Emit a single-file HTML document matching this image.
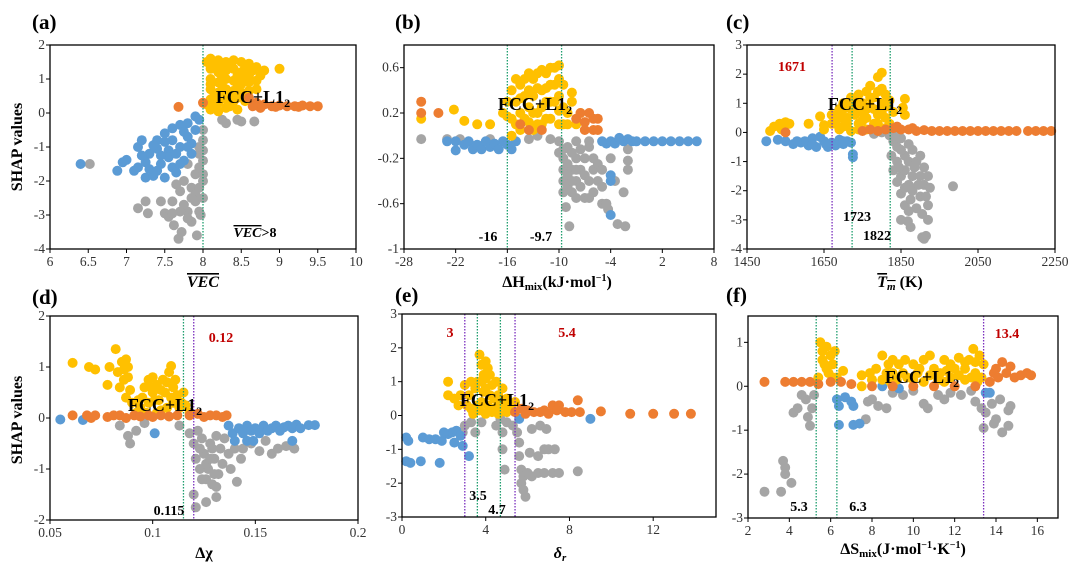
<!DOCTYPE html>
<html><head><meta charset="utf-8"><style>
html,body{margin:0;padding:0;background:#fff;}
svg{display:block;font-family:"Liberation Serif",serif;}
.tk{font-size:13.5px;fill:#333;}
</style></head><body>
<svg id="fig" width="1080" height="566" viewBox="0 0 1080 566"></svg>
<script>
// ---- data (x, y) per panel and class ----
const aYellow=[[8.1,1.6],[8.2,1.55],[8.3,1.5],[8.4,1.55],[8.5,1.5],[8.6,1.45],[8.7,1.35],[8.8,1.25],[9.0,1.3],[8.1,1.3],[8.2,1.2],[8.3,1.25],[8.4,1.3],[8.5,1.2],[8.6,1.1],[8.1,1.0],[8.2,0.9],[8.3,1.0],[8.4,0.95],[8.5,0.85],[8.6,0.9],[8.7,0.95],[8.1,0.7],[8.2,0.6],[8.3,0.7],[8.4,0.65],[8.5,0.6],[8.1,0.4],[8.2,0.3],[8.3,0.4],[8.4,0.35],[8.1,0.1],[8.2,0.05],[8.3,0.15],[8.45,0.1],[8.15,1.45],[8.35,1.4],[8.25,0.8],[8.15,0.55],[8.35,0.2],[8.05,0.25],[8.55,0.35],[8.6,0.65],[8.1,0.85],[8.15,0.2],[8.25,0.45],[8.25,1.05],[8.35,0.55],[8.45,0.75],[8.45,1.1],[8.55,1.0],[8.65,1.25],[8.7,0.7],[8.75,1.1],[8.25,1.35],[8.45,0.45],[8.05,1.5],[8.55,1.35]];
const aOrange=[[7.68,0.18],[8.0,0.3],[8.6,0.45],[8.7,0.3],[8.8,0.25],[8.9,0.2],[9.0,0.22],[9.1,0.2],[9.2,0.2],[9.3,0.22],[9.4,0.2],[9.5,0.2],[8.75,0.15],[8.95,0.18],[9.25,0.18],[8.65,0.2]];
const aBlue=[[6.4,-1.5],[6.88,-1.7],[6.95,-1.45],[7.0,-1.38],[7.15,-1.0],[7.15,-1.6],[7.2,-0.8],[7.25,-1.9],[7.3,-1.2],[7.35,-1.85],[7.4,-0.8],[7.45,-1.5],[7.5,-0.6],[7.5,-1.9],[7.55,-1.1],[7.6,-0.45],[7.6,-1.6],[7.65,-1.75],[7.7,-0.35],[7.7,-1.0],[7.75,-1.4],[7.8,-0.3],[7.8,-0.7],[7.85,-1.2],[7.9,-0.1],[7.9,-0.5],[7.95,-0.2],[7.25,-1.45],[7.4,-1.05],[7.6,-0.8],[7.1,-1.7],[7.35,-0.95],[7.55,-1.3],[7.7,-1.5],[7.85,-0.9],[7.2,-1.25],[7.3,-1.65],[7.45,-1.25],[7.65,-1.2],[7.75,-0.55],[7.5,-0.85],[7.4,-1.7],[7.8,-1.0]];
const aGray=[[6.52,-1.5],[7.15,-2.8],[7.25,-2.6],[7.28,-2.95],[7.45,-2.6],[7.5,-2.95],[7.55,-3.05],[7.6,-2.6],[7.62,-3.3],[7.68,-3.7],[7.72,-3.5],[7.7,-2.3],[7.75,-2.0],[7.8,-1.5],[7.8,-2.9],[7.85,-2.2],[7.85,-3.2],[7.9,-1.8],[7.9,-2.6],[7.92,-3.6],[7.95,-1.0],[7.95,-2.9],[8.0,-0.8],[8.0,-1.4],[8.0,-2.0],[8.0,-2.5],[7.97,-3.0],[8.0,-0.5],[8.25,-0.2],[8.3,-0.3],[8.45,-0.2],[8.5,-0.25],[8.67,-0.25],[7.65,-2.1],[7.75,-2.7],[7.95,-1.2],[7.95,-1.6],[7.95,-2.2],[7.9,-2.4],[7.85,-2.5],[8.0,-1.1],[8.0,-1.8],[7.8,-3.1],[7.7,-2.9],[7.6,-2.95]];

const bYellow=[[-16.5,0.2],[-16,0.3],[-15.5,0.4],[-15,0.5],[-14.5,0.45],[-14,0.5],[-13.5,0.55],[-13,0.5],[-12.5,0.55],[-12,0.58],[-11.5,0.55],[-11,0.6],[-10.5,0.6],[-10,0.62],[-10,0.5],[-15.5,0.15],[-15,0.3],[-14.5,0.2],[-14,0.35],[-13.5,0.25],[-13,0.35],[-12.5,0.2],[-12,0.4],[-11.5,0.3],[-11,0.45],[-10.5,0.3],[-10,0.35],[-9.5,0.25],[-9.5,0.45],[-9,0.2],[-9,0.1],[-8.5,0.38],[-8.5,0.3],[-8,0.1],[-7.5,0.2],[-12,0.1],[-11,0.15],[-10,0.1],[-13,0.05],[-14.5,0.05],[-15.5,0.0],[-26,0.15],[-22.2,0.23],[-21,0.13],[-19.5,0.1],[-18,0.1],[-16,0.17],[-14.5,0.33],[-13.5,0.4],[-12.5,0.42],[-11.5,0.42],[-10.5,0.45],[-13,0.2],[-12,0.25],[-11,0.3],[-10,0.22],[-9.5,0.1],[-14,0.15],[-15,0.1],[-12.5,0.1],[-11.5,0.15],[-13.5,0.12]];
const bOrange=[[-26,0.3],[-26,0.2],[-24,0.2],[-14.5,0.1],[-13.5,0.05],[-12,0.05],[-8,0.15],[-7.5,0.2],[-7,0.12],[-6.5,0.2],[-6,0.15],[-5.5,0.15],[-6,0.05],[-5.5,0.05],[-7,0.05]];
const bBlue=[[-23,-0.05],[-22,-0.05],[-22,-0.13],[-21,-0.08],[-20.5,-0.05],[-20,-0.12],[-19.5,-0.08],[-19,-0.12],[-18.5,-0.05],[-18,-0.1],[-17.5,-0.07],[-17,-0.12],[-16.5,-0.05],[-16,-0.08],[-15.5,-0.12],[-15,-0.05],[-4.5,-0.07],[-4,-0.05],[-3.5,-0.07],[-3,-0.02],[-2.5,-0.05],[-2,-0.03],[-1.5,-0.05],[-1,-0.05],[0,-0.05],[1,-0.05],[2,-0.05],[3,-0.05],[4,-0.05],[5,-0.05],[6,-0.05],[-4,-0.35],[-4,-0.4],[-4,-0.7],[-5,-0.05]];
const bGray=[[-26,-0.03],[-23,-0.03],[-21.5,-0.03],[-18,-0.03],[-13.5,-0.03],[-12.5,0.0],[-11,-0.03],[-10,-0.05],[-10,-0.15],[-9.5,-0.2],[-9.5,-0.3],[-9.5,-0.4],[-9.5,-0.5],[-9,-0.1],[-9,-0.25],[-9,-0.35],[-9,-0.45],[-8.5,-0.3],[-8.5,-0.5],[-8,-0.2],[-8,-0.4],[-8,-0.55],[-7.5,-0.3],[-7.5,-0.45],[-7,-0.2],[-7,-0.35],[-7,-0.55],[-6.5,-0.1],[-6.5,-0.4],[-6,-0.3],[-6,-0.5],[-5.5,-0.4],[-5,-0.45],[-5,-0.6],[-4.5,-0.6],[-4,-0.2],[-3.5,-0.4],[-2.5,-0.5],[-2,-0.3],[-2,-0.22],[-2,-0.12],[-3.2,-0.78],[-2.3,-0.8],[-8.8,-0.8],[-9.2,-0.63],[-4.3,-0.65],[-8,-0.05],[-6.5,-0.05],[-9.5,-0.12],[-8.5,-0.15],[-8.5,-0.4],[-7.5,-0.12],[-6,-0.2],[-5.5,-0.25],[-5,-0.3],[-6.5,-0.55],[-8,-0.3]];

const cYellow=[[1510,0.05],[1520,0.2],[1535,0.3],[1550,0.35],[1560,0.3],[1610,0.3],[1640,0.55],[1650,0.25],[1670,0.6],[1680,0.3],[1690,0.5],[1700,0.8],[1700,0.2],[1710,1.0],[1720,1.2],[1730,0.6],[1740,1.3],[1740,0.3],[1750,1.0],[1760,1.4],[1760,0.5],[1770,1.6],[1780,1.2],[1780,0.3],[1790,1.9],[1800,2.05],[1800,1.5],[1800,0.7],[1810,1.3],[1815,0.9],[1820,0.3],[1830,0.7],[1860,1.15],[1860,0.6],[1855,0.85],[1690,0.1],[1720,0.05],[1760,0.1],[1700,1.0],[1730,0.9],[1750,0.7],[1650,0.1],[1540,0.1],[1670,0.3],[1770,0.9],[1790,0.6],[1680,0.6],[1690,0.8],[1710,0.5],[1720,0.8],[1730,1.1],[1740,0.7],[1750,0.4],[1760,0.8],[1770,1.2],[1780,0.8],[1790,1.4],[1790,0.3],[1800,1.0],[1810,0.5],[1820,1.1],[1710,0.3],[1740,0.1],[1810,0.15],[1700,0.5]];
const cOrange=[[1750,0.05],[1770,0.1],[1790,0.05],[1810,0.1],[1830,0.15],[1850,0.1],[1870,0.1],[1890,0.05],[1910,0.08],[1930,0.05],[1950,0.05],[1970,0.05],[1990,0.05],[2010,0.05],[2030,0.05],[2050,0.05],[2070,0.05],[2090,0.05],[2110,0.05],[2130,0.05],[2150,0.05],[2180,0.05],[2200,0.05],[2220,0.05],[2240,0.05],[1840,0.2],[1880,0.15],[1550,0.0]];
const cBlue=[[1500,-0.3],[1530,-0.25],[1550,-0.3],[1570,-0.4],[1590,-0.35],[1610,-0.45],[1620,-0.2],[1630,-0.5],[1650,-0.3],[1660,-0.5],[1670,-0.35],[1680,-0.45],[1700,-0.4],[1710,-0.3],[1720,-0.35],[1725,-0.75],[1725,-0.85],[1640,-0.15],[1600,-0.3],[1690,-0.25],[1580,-0.3],[1620,-0.4],[1655,-0.4],[1700,-0.3]];
const cGray=[[1820,-0.1],[1830,-0.3],[1825,-0.8],[1830,-1.3],[1840,-0.5],[1840,-1.0],[1850,-0.2],[1850,-1.5],[1850,-2.1],[1860,-0.8],[1860,-1.3],[1860,-2.5],[1870,-1.0],[1870,-1.8],[1875,-2.3],[1880,-0.6],[1880,-1.5],[1880,-2.0],[1890,-1.0],[1890,-2.6],[1900,-0.8],[1900,-1.5],[1900,-2.2],[1905,-2.8],[1910,-1.2],[1910,-1.8],[1920,-1.5],[1920,-2.5],[1920,-3.0],[1850,-3.0],[1875,-3.25],[1868,-3.05],[1905,-3.6],[1915,-3.55],[1985,-1.85],[1835,-0.05],[1800,0.0],[1780,-0.05],[1910,-3.65],[1840,-1.7],[1850,-0.6],[1860,-1.9],[1870,-0.4],[1870,-2.7],[1885,-1.2],[1895,-1.8],[1915,-2.2],[1925,-1.9],[1845,-1.2]];

const dYellow=[[0.061,1.08],[0.069,1.0],[0.072,0.95],[0.078,0.65],[0.079,1.0],[0.082,1.35],[0.083,0.9],[0.085,1.1],[0.086,0.75],[0.087,1.15],[0.088,1.0],[0.089,0.55],[0.090,0.3],[0.092,0.1],[0.095,0.4],[0.096,0.6],[0.098,0.75],[0.098,0.3],[0.100,0.8],[0.100,0.5],[0.102,0.65],[0.103,0.35],[0.104,0.15],[0.105,0.75],[0.106,0.5],[0.108,0.9],[0.109,1.02],[0.110,0.6],[0.110,0.3],[0.112,0.45],[0.113,0.2],[0.115,0.5],[0.116,0.25],[0.118,0.1],[0.094,0.2],[0.084,0.6],[0.107,0.2],[0.097,0.1],[0.086,0.95],[0.088,0.8],[0.099,0.6],[0.101,0.35],[0.104,0.55],[0.107,0.7],[0.109,0.4],[0.111,0.75],[0.114,0.3],[0.102,0.1],[0.093,0.35],[0.087,0.4]];
const dOrange=[[0.061,0.05],[0.068,0.05],[0.070,0.0],[0.072,0.05],[0.078,0.02],[0.081,0.05],[0.084,0.05],[0.087,0.0],[0.091,0.05],[0.094,0.03],[0.098,0.05],[0.100,0.02],[0.104,0.05],[0.108,0.03],[0.112,0.05],[0.118,0.05],[0.122,0.08],[0.125,0.02],[0.128,0.05],[0.131,0.05],[0.134,0.02],[0.136,0.05]];
const dBlue=[[0.055,-0.03],[0.066,-0.04],[0.101,-0.3],[0.137,-0.15],[0.139,-0.3],[0.140,-0.45],[0.142,-0.2],[0.144,-0.3],[0.146,-0.15],[0.148,-0.25],[0.150,-0.2],[0.152,-0.3],[0.154,-0.15],[0.156,-0.25],[0.158,-0.2],[0.160,-0.15],[0.162,-0.25],[0.164,-0.18],[0.166,-0.15],[0.168,-0.2],[0.170,-0.13],[0.176,-0.14],[0.179,-0.14],[0.172,-0.2],[0.146,-0.45],[0.149,-0.45],[0.168,-0.45]];
const dGray=[[0.084,-0.15],[0.088,-0.35],[0.089,-0.5],[0.092,-0.25],[0.096,-0.1],[0.113,-0.15],[0.118,-0.3],[0.120,-0.5],[0.121,-0.8],[0.123,-1.0],[0.124,-0.4],[0.125,-0.7],[0.126,-1.2],[0.127,-1.0],[0.128,-0.5],[0.129,-1.3],[0.130,-0.8],[0.131,-0.35],[0.132,-1.1],[0.133,-0.6],[0.134,-0.9],[0.135,-0.4],[0.137,-0.7],[0.138,-1.0],[0.120,-1.5],[0.121,-1.75],[0.126,-1.65],[0.131,-1.35],[0.131,-1.55],[0.141,-1.25],[0.140,-0.6],[0.143,-0.8],[0.144,-0.6],[0.148,-0.5],[0.155,-0.45],[0.158,-0.7],[0.161,-0.6],[0.165,-0.55],[0.169,-0.6],[0.152,-0.65],[0.122,-0.25],[0.124,-1.2],[0.126,-0.9],[0.128,-0.8],[0.129,-0.6],[0.123,-0.6],[0.130,-1.1]];

const eYellow=[[2.2,1.0],[2.2,0.6],[2.5,0.5],[2.8,0.6],[3.0,0.9],[3.2,0.6],[3.3,0.2],[3.5,0.8],[3.6,1.0],[3.6,0.3],[3.7,1.8],[3.8,1.5],[3.9,1.2],[4.0,1.6],[4.0,0.8],[4.1,0.3],[4.2,1.2],[4.3,0.9],[4.4,0.5],[4.5,1.0],[4.6,0.6],[4.7,0.3],[4.8,0.8],[5.0,0.5],[5.2,0.3],[5.4,0.4],[3.4,0.05],[4.0,0.05],[4.6,0.05],[5.0,0.1],[3.3,1.0],[4.3,0.1],[3.8,0.4],[3.9,0.7],[4.0,1.1],[4.2,0.6],[4.4,0.2],[3.7,0.15],[3.8,1.0],[4.1,1.4],[4.6,0.3],[4.9,0.3],[3.1,0.3],[2.7,0.3]];
const eOrange=[[5.4,0.1],[5.7,0.2],[6.0,0.15],[6.3,0.1],[6.6,0.1],[7.0,0.05],[7.2,0.3],[7.5,0.3],[7.4,0.15],[7.8,0.1],[8.1,0.1],[8.4,0.45],[8.5,0.1],[9.5,0.12],[10.9,0.05],[12.0,0.05],[13.0,0.05],[13.8,0.05],[6.8,0.15],[5.9,0.05]];
const eBlue=[[0.2,-0.65],[0.3,-0.75],[1.0,-0.65],[1.3,-0.7],[1.6,-0.7],[1.9,-0.75],[2.2,-0.55],[2.4,-0.5],[2.6,-0.45],[2.8,-0.6],[2.9,-0.9],[2.5,-0.8],[0.2,-1.35],[0.4,-1.4],[0.9,-1.35],[1.8,-1.4],[3.2,-1.2],[5.6,-0.1],[9.0,-0.1],[2.0,-0.5]];
const eGray=[[2.9,-0.5],[3.0,-0.3],[3.3,-0.2],[3.5,-0.5],[3.8,-0.2],[4.5,-0.3],[4.7,-0.1],[4.8,-0.5],[4.8,-1.0],[4.9,-1.6],[5.0,-0.2],[5.5,-0.5],[5.6,-0.8],[5.6,-1.2],[5.7,-1.6],[5.7,-2.0],[5.8,-2.2],[5.9,-2.4],[5.8,-1.8],[6.0,-1.7],[6.2,-1.8],[6.5,-1.7],[6.8,-1.7],[7.2,-1.7],[7.5,-1.7],[6.2,-0.4],[6.5,-1.2],[6.8,-1.0],[7.0,-1.0],[7.3,-1.0],[8.4,-1.65],[6.6,-0.3],[6.9,-0.4],[5.3,-0.3],[6.1,-1.1]];

const fYellow=[[5.5,1.0],[5.6,0.8],[5.7,0.5],[5.8,0.9],[5.9,0.3],[6.0,0.7],[6.1,0.5],[6.2,0.8],[6.3,0.2],[5.4,0.2],[6.6,0.35],[7.5,0.25],[7.9,0.3],[8.2,0.4],[8.5,0.7],[8.7,0.3],[8.8,0.5],[9.0,0.6],[9.3,0.5],[9.5,0.3],[9.6,0.6],[10.0,0.5],[10.2,0.3],[10.5,0.6],[10.8,0.7],[11.0,0.4],[11.3,0.3],[11.5,0.6],[11.8,0.5],[12.0,0.4],[12.2,0.65],[12.5,0.4],[12.7,0.6],[12.9,0.85],[13.0,0.3],[13.2,0.7],[13.4,0.5],[13.3,0.2],[9.2,0.15],[10.5,0.1],[11.5,0.1],[12.5,0.15],[8.9,0.1],[7.5,0.0],[8.0,0.15],[8.5,0.15],[9.7,0.2],[10.0,0.15],[10.8,0.25],[11.2,0.15],[11.8,0.2],[12.2,0.25],[12.8,0.2],[13.1,0.1],[9.0,0.3],[10.3,0.4],[11.6,0.35],[12.5,0.55],[13.0,0.55],[5.8,0.4],[6.1,0.2],[5.6,0.6]];
const fOrange=[[2.8,0.1],[3.8,0.1],[4.2,0.1],[4.6,0.1],[5.0,0.1],[5.4,0.05],[6.0,0.1],[6.5,0.1],[7.0,0.05],[8.0,0.0],[9.0,0.0],[10,0.0],[11,0.0],[12,0.0],[13,0.0],[13.7,0.1],[13.9,0.3],[14.1,0.2],[14.3,0.55],[14.5,0.3],[14.7,0.45],[14.9,0.2],[15.2,0.25],[15.5,0.3],[15.7,0.25],[14.0,0.4]];
const fBlue=[[6.3,-0.3],[6.4,-0.45],[6.4,-0.88],[6.7,-0.25],[7.0,-0.35],[7.1,-0.45],[7.1,-0.88],[7.4,-0.85],[8.5,0.0],[9.3,-0.05],[13.5,-0.15],[13.7,-0.15]];
const fGray=[[2.8,-2.4],[3.6,-2.4],[3.7,-1.7],[3.8,-1.85],[3.8,-2.0],[4.1,-2.2],[4.2,-0.6],[4.4,-0.5],[4.6,-0.2],[4.8,-0.3],[4.9,-0.7],[5.0,-0.9],[5.1,-0.5],[5.2,-0.2],[7.7,-0.75],[7.8,-0.35],[8.0,-0.3],[8.3,-0.45],[8.7,-0.5],[9.0,-0.15],[9.5,-0.2],[10.0,-0.1],[10.5,-0.4],[10.7,-0.5],[11.2,-0.2],[11.5,-0.3],[11.8,-0.15],[12.3,-0.2],[12.8,-0.1],[13.0,-0.35],[13.3,-0.5],[13.5,-0.6],[13.4,-0.95],[13.8,-0.4],[14.0,-0.75],[14.2,-0.3],[14.3,-1.05],[14.6,-0.55],[14.6,-0.9],[14.7,-0.45],[13.9,-0.85]];

// tick labels
const aXTicks=[6,6.5,7,7.5,8,8.5,9,9.5,10], aYTicks=[2,1,0,-1,-2,-3,-4];
const bXTicks=[-28,-22,-16,-10,-4,2,8], bYTicks=[0.6,0.2,-0.2,-0.6,-1];
const cXTicks=[1450,1650,1850,2050,2250], cYTicks=[3,2,1,0,-1,-2,-3,-4];
const dXTicks=[0.05,0.1,0.15,0.2], dYTicks=[2,1,0,-1,-2];
const eXTicks=[0,4,8,12], eYTicks=[3,2,1,0,-1,-2,-3];
const fXTicks=[2,4,6,8,10,12,14,16], fYTicks=[1,0,-1,-2,-3];
// threshold lines
const aLines=[[8,'g']], bLines=[[-16,'g'],[-9.7,'g']], cLines=[[1671,'p'],[1723,'g'],[1822,'g']];
const dLines=[[0.115,'g'],[0.12,'p']], eLines=[[3,'p'],[3.6,'g'],[4.7,'g'],[5.4,'p']], fLines=[[5.3,'g'],[6.3,'g'],[13.4,'p']];

const NS='http://www.w3.org/2000/svg';
const svg=document.getElementById('fig');
function mk(tag,attrs,parent,text){const e=document.createElementNS(NS,tag);for(const k in attrs)e.setAttribute(k,attrs[k]);if(text!==undefined)e.textContent=text;(parent||svg).appendChild(e);return e;}
const COL={y:'#FFC000',o:'#ED7D31',b:'#5B9BD5',g:'#A5A5A5'};

function panel(id,box,xr,yr,xt,yt,series,lines){
  const [L,T,R,B]=box;
  const sx=v=>L+(v-xr[0])/(xr[1]-xr[0])*(R-L);
  const sy=v=>B-(v-yr[0])/(yr[1]-yr[0])*(B-T);
  const g=mk('g',{});
  
  
  const order=[['g',series.g,'gray'],['b',series.b,'blue'],['y',series.y,'yellow'],['o',series.o,'orange']];
  order.forEach(([k,arr,nm])=>{
    arr.forEach(p=>{
      const c=mk('circle',{cx:sx(p[0]).toFixed(1),cy:sy(p[1]).toFixed(1),r:5,fill:COL[k]},g);
      
      
    });
  });
  lines.forEach(([v,c])=>{
    const l=mk('line',{x1:sx(v),x2:sx(v),y1:T,y2:B,stroke:c==='g'?'#1E9E6E':'#7B2FBE','stroke-width':1.3,'stroke-dasharray':'1.5,1.5'},g);
    
    
  });
  const fr=mk('rect',{x:L,y:T,width:R-L,height:B-T,fill:'none',stroke:'#000','stroke-width':1.3},g);
  
  
  xt.forEach(v=>{
    mk('line',{x1:sx(v),x2:sx(v),y1:B,y2:B+4,stroke:'#000'},g);
    const t=mk('text',{x:sx(v),y:B+17,'text-anchor':'middle',class:'tk'},g,String(v));
    
    
  });
  yt.forEach(v=>{
    mk('line',{x1:L-4,x2:L,y1:sy(v),y2:sy(v),stroke:'#000'},g);
    const t=mk('text',{x:L-5,y:sy(v)+4,'text-anchor':'end',class:'tk'},g,String(v));
    
    
  });
}
panel('a',[50,45,356,249],[6,10],[-4,2],aXTicks,aYTicks,{y:aYellow,o:aOrange,b:aBlue,g:aGray},aLines);
panel('b',[404,45,714,249],[-28,8],[-1,0.8],bXTicks,bYTicks,{y:bYellow,o:bOrange,b:bBlue,g:bGray},bLines);
panel('c',[747,45,1055,249],[1450,2250],[-4,3],cXTicks,cYTicks,{y:cYellow,o:cOrange,b:cBlue,g:cGray},cLines);
panel('d',[50,316,358,520],[0.05,0.2],[-2,2],dXTicks,dYTicks,{y:dYellow,o:dOrange,b:dBlue,g:dGray},dLines);
panel('e',[402,314,716,517],[0,15],[-3,3],eXTicks,eYTicks,{y:eYellow,o:eOrange,b:eBlue,g:eGray},eLines);
panel('f',[748,316,1058,518],[2,17],[-3,1.6],fXTicks,fYTicks,{y:fYellow,o:fOrange,b:fBlue,g:fGray},fLines);
</script>
<svg width="1080" height="566" style="position:absolute;left:0;top:0;font-family:'Liberation Serif',serif;">
<style>.pl{font-size:21px;font-weight:bold}.an{font-size:14px;font-weight:bold}.fcc{font-size:18px;font-weight:bold}.red{fill:#C00000}.ttl{font-size:16px;font-weight:bold}</style>
<text class="pl" x="32" y="29">(a)</text>
<text class="pl" x="395" y="29">(b)</text>
<text class="pl" x="726" y="29">(c)</text>
<text class="pl" x="32" y="304">(d)</text>
<text class="pl" x="395" y="302">(e)</text>
<text class="pl" x="726" y="302">(f)</text>
<text class="ttl" transform="translate(22,147) rotate(-90)" text-anchor="middle" font-size="17">SHAP values</text>
<text class="ttl" transform="translate(22,420) rotate(-90)" text-anchor="middle" font-size="17">SHAP values</text>
<text class="ttl" x="203" y="287" text-anchor="middle" font-style="italic" text-decoration="overline">VEC</text>
<text class="ttl" x="557" y="287" text-anchor="middle">ΔH<tspan font-size="11" dy="3">mix</tspan><tspan dy="-3">(kJ·mol</tspan><tspan font-size="10" dy="-6">−1</tspan><tspan dy="6">)</tspan></text>
<text class="ttl" x="900" y="287" text-anchor="middle"><tspan font-style="italic" text-decoration="overline">T<tspan font-size="11" dy="3">m</tspan></tspan><tspan dy="-3"> (K)</tspan></text>
<text class="ttl" x="204" y="558" text-anchor="middle" font-weight="normal">Δχ</text>
<text class="ttl" x="560" y="558" text-anchor="middle" font-style="italic">δ<tspan font-size="11" dy="3">r</tspan></text>
<text class="ttl" x="903" y="554" text-anchor="middle">ΔS<tspan font-size="11" dy="3">mix</tspan><tspan dy="-3">(J·mol</tspan><tspan font-size="10" dy="-6">−1</tspan><tspan dy="6">·K</tspan><tspan font-size="10" dy="-6">−1</tspan><tspan dy="6">)</tspan></text>
<text class="fcc" x="253" y="103" text-anchor="middle">FCC+L1<tspan font-size="12" dy="4">2</tspan></text>
<text class="fcc" x="535" y="110" text-anchor="middle">FCC+L1<tspan font-size="12" dy="4">2</tspan></text>
<text class="fcc" x="865" y="110" text-anchor="middle">FCC+L1<tspan font-size="12" dy="4">2</tspan></text>
<text class="fcc" x="165" y="411" text-anchor="middle">FCC+L1<tspan font-size="12" dy="4">2</tspan></text>
<text class="fcc" x="497" y="406" text-anchor="middle">FCC+L1<tspan font-size="12" dy="4">2</tspan></text>
<text class="fcc" x="922" y="383" text-anchor="middle">FCC+L1<tspan font-size="12" dy="4">2</tspan></text>
<text class="an" x="255" y="237" text-anchor="middle" font-size="15"><tspan font-style="italic" text-decoration="overline">VEC</tspan>&gt;8</text>
<text class="an" x="488" y="241" text-anchor="middle">-16</text>
<text class="an" x="541" y="241" text-anchor="middle">-9.7</text>
<text class="an red" x="792" y="71" text-anchor="middle">1671</text>
<text class="an" x="857" y="221" text-anchor="middle">1723</text>
<text class="an" x="877" y="240" text-anchor="middle">1822</text>
<text class="an red" x="221" y="342" text-anchor="middle">0.12</text>
<text class="an" x="169" y="515" text-anchor="middle">0.115</text>
<text class="an red" x="450" y="337" text-anchor="middle">3</text>
<text class="an red" x="567" y="337" text-anchor="middle">5.4</text>
<text class="an" x="478" y="500" text-anchor="middle">3.5</text>
<text class="an" x="497" y="514" text-anchor="middle">4.7</text>
<text class="an red" x="1007" y="338" text-anchor="middle">13.4</text>
<text class="an" x="799" y="511" text-anchor="middle">5.3</text>
<text class="an" x="858" y="511" text-anchor="middle">6.3</text>
</svg>
</body></html>
